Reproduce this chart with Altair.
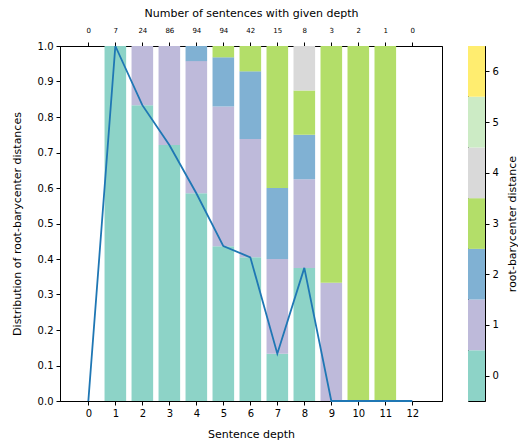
import altair as alt
import pandas as pd

# Sentence depth (x), sentences per depth (top axis), and per-distance counts
depths = list(range(13))
n_sentences = [0, 7, 24, 86, 94, 94, 42, 15, 8, 3, 2, 1, 0]
dist0 = [0, 7, 20, 62, 55, 41, 17, 2, 3, 0, 0, 0, 0]
dist1 = [0, 0, 4, 24, 35, 37, 14, 4, 2, 1, 0, 0, 0]
dist2 = [0, 0, 0, 0, 4, 13, 8, 3, 1, 0, 0, 0, 0]
dist3 = [0, 0, 0, 0, 0, 3, 3, 6, 1, 2, 2, 1, 0]
dist4 = [0, 0, 0, 0, 0, 0, 0, 0, 1, 0, 0, 0, 0]
dist_levels = [0, 1, 2, 3, 4, 5, 6]
palette = ["#8dd3c7", "#bebada", "#80b1d3", "#b3de69", "#d9d9d9", "#ccebc5", "#ffed6f"]
y_ticks = [0.0, 0.1, 0.2, 0.3, 0.4, 0.5, 0.6, 0.7, 0.8, 0.9, 1.0]

FONT = "DejaVu Sans"
BAR_W = 0.8

# stacked, normalised segments
per_dist = [dist0, dist1, dist2, dist3, dist4]
rows = []
for i, d in enumerate(depths):
    n = n_sentences[i]
    if n == 0:
        continue
    acc = 0.0
    for k, counts in enumerate(per_dist):
        c = counts[i]
        if c == 0:
            continue
        frac = c / n
        rows.append({"depth": d, "dist": k, "x0": d - BAR_W / 2, "x1": d + BAR_W / 2,
                     "y0": acc, "y1": acc + frac})
        acc += frac
bar_df = pd.DataFrame(rows)

# share of distance 0 per depth
line_df = pd.DataFrame({
    "depth": depths,
    "share0": [(dist0[i] / n_sentences[i]) if n_sentences[i] else 0.0 for i in range(len(depths))],
})

xscale = alt.Scale(domain=[-1.05, 13.1], nice=False, zero=False)
yscale = alt.Scale(domain=[0, 1], nice=False)
color_scale = alt.Scale(domain=dist_levels, range=palette)

count_expr = "[" + ",".join(str(v) for v in n_sentences) + "][datum.value]"

y_axis = alt.Axis(values=y_ticks, format=".1f", labelOverlap=False,
                  title="Distribution of root-barycenter distances",
                  labelFontSize=10, titleFontSize=11, tickSize=4,
                  labelPadding=3, titlePadding=15)

bars = alt.Chart(bar_df).mark_rect().encode(
    x=alt.X("x0:Q", scale=xscale,
            axis=alt.Axis(orient="bottom", values=depths, title="Sentence depth",
                          labelFontSize=10, titleFontSize=11, tickSize=4,
                          labelPadding=3, titlePadding=10)),
    x2="x1:Q",
    y=alt.Y("y0:Q", scale=yscale, axis=y_axis),
    y2="y1:Q",
    color=alt.Color("dist:O", scale=color_scale, legend=None),
)

line = alt.Chart(line_df).mark_line(color="#1f77b4", strokeWidth=1.8).encode(
    x=alt.X("depth:Q", scale=xscale,
            axis=alt.Axis(orient="top", values=depths, labelExpr=count_expr,
                          title="Number of sentences with given depth",
                          labelFontSize=7, titleFontSize=11, tickSize=4,
                          labelPadding=9, titlePadding=8)),
    y=alt.Y("share0:Q", scale=yscale, axis=y_axis),
)

main = alt.layer(bars, line).resolve_axis(x="independent").properties(width=382, height=355)

# colour bar for the distance scale
cb_df = pd.DataFrame({"dist": dist_levels,
                      "lo": [v - 0.5 for v in dist_levels],
                      "hi": [v + 0.5 for v in dist_levels],
                      "left": [0] * len(dist_levels),
                      "right": [1] * len(dist_levels)})
colorbar = alt.Chart(cb_df).mark_rect().encode(
    x=alt.X("left:Q", axis=None, scale=alt.Scale(domain=[0, 1], nice=False)),
    x2="right:Q",
    y=alt.Y("lo:Q", scale=alt.Scale(domain=[-0.5, 6.5], nice=False, zero=False),
            axis=alt.Axis(orient="right", values=dist_levels, format="d",
                          title="root-barycenter distance", titleAngle=270,
                          titleBaseline="top",
                          labelFontSize=10, titleFontSize=11, tickSize=4,
                          labelPadding=3, titlePadding=8)),
    y2="hi:Q",
    color=alt.Color("dist:O", scale=color_scale, legend=None),
).properties(width=17, height=355)

chart = alt.hconcat(main, colorbar, spacing=24).properties(
    padding={"left": 10, "top": 6, "right": 0, "bottom": 2}
).configure_view(
    stroke="black", strokeWidth=1
).configure_axis(
    labelFont=FONT, titleFont=FONT, labelColor="black", titleColor="black",
    tickColor="black", domainColor="black", grid=False, titleFontWeight="normal",
    labelOverlap=False, labelFlush=False,
)

chart.save("out.html", embed_options={"renderer": "svg", "actions": False})
